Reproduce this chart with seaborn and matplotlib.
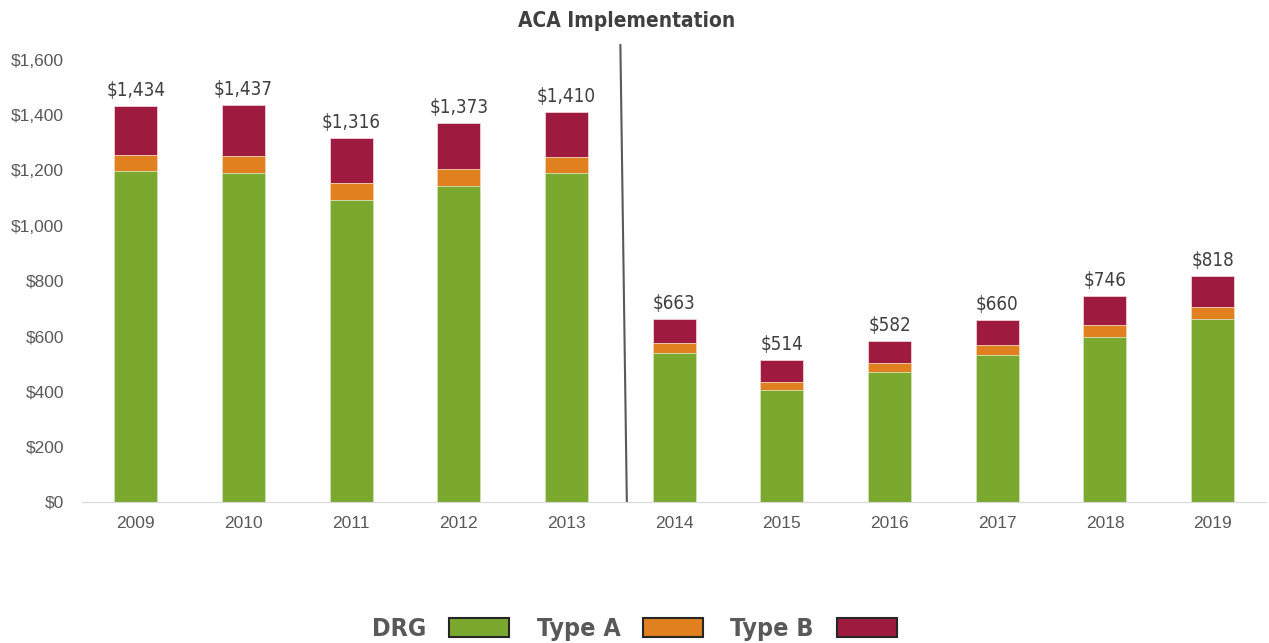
import pandas as pd
import matplotlib.pyplot as plt
import seaborn as sns
from matplotlib.patches import Patch

# values
years = ['2009', '2010', '2011', '2012', '2013', '2014', '2015', '2016', '2017', '2018', '2019']
drg = [1198, 1191, 1093, 1144, 1191, 539, 405, 472, 532, 597, 662]
type_a = [58, 61, 62, 61, 58, 37, 29, 30, 36, 45, 45]
type_b = [178, 185, 161, 168, 161, 87, 80, 80, 92, 104, 111]

df = pd.DataFrame({'year': years, 'DRG': drg, 'Type A': type_a, 'Type B': type_b})
df['drg_a'] = df['DRG'] + df['Type A']
df['total'] = df['drg_a'] + df['Type B']

sns.set_style('white')
plt.rcParams['font.family'] = ['DejaVu Sans']
plt.rcParams['font.stretch'] = 'condensed'

green = '#7BA82F'
orange = '#E0801E'
crimson = '#9E1B3F'
text_col = '#404040'

fig = plt.figure(figsize=(12.69, 6.43), dpi=100)
ax = fig.add_axes([0.0646, 0.2193, 0.9334, 0.6874])

# stacked bars drawn as overlapping cumulative totals
sns.barplot(data=df, x='year', y='total', color=crimson, width=0.4, ax=ax,
            saturation=1, edgecolor='#f0d0d8', linewidth=0.6)
sns.barplot(data=df, x='year', y='drg_a', color=orange, width=0.4, ax=ax,
            saturation=1, edgecolor='#f5d9bf', linewidth=0.6)
sns.barplot(data=df, x='year', y='DRG', color=green, width=0.4, ax=ax,
            saturation=1, edgecolor='#d5e6bf', linewidth=0.6)

for i, t in enumerate(df['total']):
    ax.text(i, t + 22, f'${t:,}', ha='center', va='bottom', fontsize=13.5,
            color=text_col, fontstretch='condensed')

ax.set_ylim(0, 1600)
ax.set_xlim(-0.5, 10.5)
ax.set_yticks(range(0, 1601, 200))
ax.set_yticklabels([f'${v:,}' for v in range(0, 1601, 200)], fontsize=12.5,
                   color='#595959', family=['Liberation Sans', 'DejaVu Sans'],
                   fontstretch='normal')
ax.tick_params(axis='x', labelsize=12.5, labelcolor='#595959', pad=10, length=0)
ax.tick_params(axis='y', length=0, pad=13)
for lbl in ax.get_xticklabels():
    lbl.set_family(['Liberation Sans', 'DejaVu Sans'])
    lbl.set_fontstretch('normal')
ax.set_xlabel('')
ax.set_ylabel('')
for s in ['top', 'right', 'left']:
    ax.spines[s].set_visible(False)
ax.spines['bottom'].set_color('#d9d9d9')

# ACA implementation marker
ax.plot([4.5, 4.56], [1655, 0], color='#595959', linewidth=1.5, clip_on=False)
ax.text(4.56, 1740, 'ACA Implementation', ha='center', va='center',
        fontsize=15, color=text_col, fontstretch='condensed', fontweight='semibold')

handles = [Patch(facecolor=green, edgecolor='#262626', linewidth=1.5, label='DRG'),
           Patch(facecolor=orange, edgecolor='#262626', linewidth=1.5, label='Type A'),
           Patch(facecolor=crimson, edgecolor='#262626', linewidth=1.5, label='Type B')]
fig.legend(handles=handles, loc='center', bbox_to_anchor=(0.5, 0.022), ncol=3,
           frameon=False, markerfirst=False, handlelength=2.4,
           handleheight=0.8, handletextpad=0.9, columnspacing=1.1,
           labelcolor='#595959',
           prop={'size': 18, 'stretch': 'condensed', 'weight': 'semibold'})

plt.savefig('out.png', dpi=100)
